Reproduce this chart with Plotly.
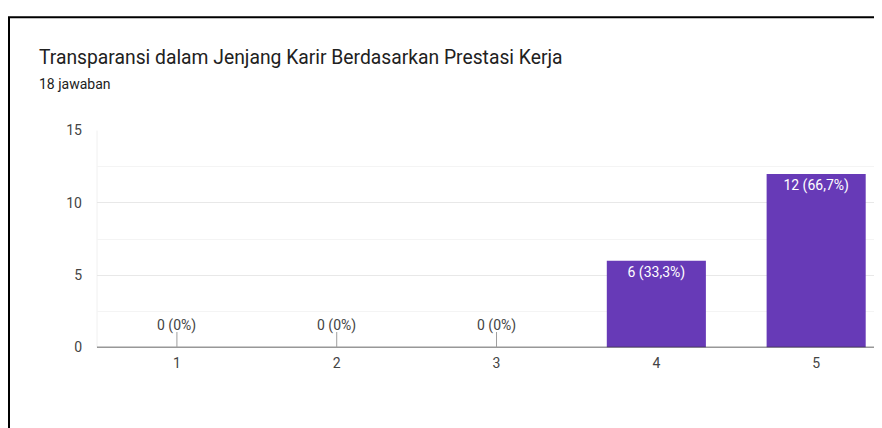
import plotly.graph_objects as go

categories = [1, 2, 3, 4, 5]
counts = [0, 0, 0, 6, 12]
labels = ["0 (0%)", "0 (0%)", "0 (0%)", "6 (33,3%)", "12 (66,7%)"]
title = "Transparansi dalam Jenjang Karir Berdasarkan Prestasi Kerja"
subtitle = "18 jawaban"

# figure geometry (screen pixels -> figure fractions)
W, H = 874, 430
OFFX = 8
SY, OFFY = 0.963, 15.4
px = lambda v: (v - OFFX) / W
fy = lambda v: (v - OFFY) / SY
py = lambda v: 1 - fy(v) / H

FONT = "Roboto, Arial"
bar_text = [l if c > 0 else "" for c, l in zip(counts, labels)]

fig = go.Figure()
fig.add_trace(go.Bar(
    x=categories, y=counts, marker=dict(color="#673ab7", line=dict(width=0)),
    text=bar_text, textposition="inside", insidetextanchor="end",
    textfont=dict(color="white", size=14, family=FONT),
    textangle=0, cliponaxis=False, hoverinfo="skip",
))

annotations = []
for c, v, l in zip(categories, counts, labels):
    if v == 0:
        # small stub marking the zero-height bar
        annotations.append(dict(
            x=c, y=v, xref="x", yref="y", text=" ", showarrow=True,
            arrowhead=0, arrowwidth=1, arrowcolor="#9e9e9e", ax=0, ay=-16.5,
            borderpad=0, font=dict(size=1, color="rgba(0,0,0,0)"),
        ))
        # value label above it
        annotations.append(dict(
            x=c, y=v, xref="x", yref="y", text=l, showarrow=False,
            yanchor="middle", yshift=fy(347) - fy(326),
            font=dict(size=14, color="#444444", family=FONT),
        ))

annotations.append(dict(x=px(37), y=py(57), xref="paper", yref="paper", text=title,
                        showarrow=False, xanchor="left", yanchor="middle",
                        font=dict(size=19.3, color="#212121", family=FONT)))
annotations.append(dict(x=px(37), y=py(83), xref="paper", yref="paper", text=subtitle,
                        showarrow=False, xanchor="left", yanchor="middle",
                        font=dict(size=14, color="#212121", family=FONT)))

fig.update_layout(
    width=W, height=H, margin=dict(l=0, r=0, t=0, b=0),
    paper_bgcolor="white", plot_bgcolor="white", showlegend=False,
    bargap=0.38, annotations=annotations,
    xaxis=dict(domain=[px(97), 1], range=[0.5, 5.412], tickvals=categories,
               ticktext=[str(c) for c in categories], showgrid=False, zeroline=False,
               showline=False, ticks="", ticklen=0, ticklabelstandoff=5,
               tickfont=dict(size=14, color="#444444", family=FONT)),
    yaxis=dict(domain=[py(347), py(130)], range=[0, 15], tickvals=[0, 5, 10, 15],
               showgrid=True, gridcolor="#e8e8e8", gridwidth=1, zeroline=False,
               showline=False, ticks="", ticklabelstandoff=14,
               minor=dict(tickvals=[2.5, 7.5, 12.5], showgrid=True, gridcolor="#f4f4f4", gridwidth=1),
               tickfont=dict(size=14, color="#444444", family=FONT)),
    shapes=[
        dict(type="line", xref="paper", yref="paper", x0=px(97), x1=px(97), y0=py(347), y1=py(130),
             line=dict(color="#f0f0f0", width=1), layer="below"),
        dict(type="line", xref="paper", yref="y", x0=px(97), x1=1.0, y0=0, y1=0,
             line=dict(color="#333333", width=1.5)),
        dict(type="rect", xref="paper", yref="paper", x0=px(9), x1=1.2, y0=-0.2, y1=1 - 1.2 / H,
             line=dict(color="black", width=2)),
    ],
)

fig.write_html("out.html")
